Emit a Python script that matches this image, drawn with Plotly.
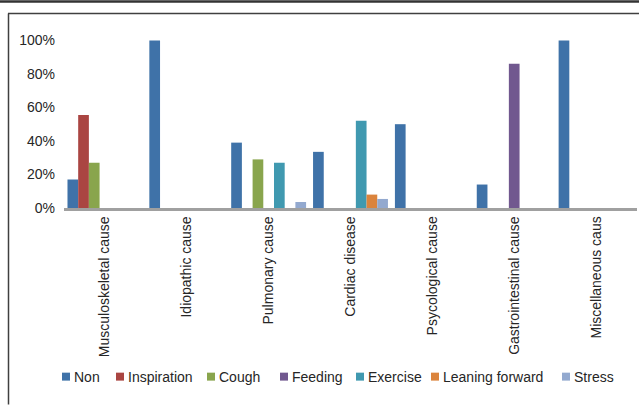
import plotly.graph_objects as go

# Causes of chest pain and the share of each provoking factor
categories = [
    "Musculoskeletal cause",
    "Idiopathic cause",
    "Pulmonary cause",
    "Cardiac disease",
    "Psycological cause",
    "Gastrointestinal cause",
    "Miscellaneous caus",
]

non = [0.17, 1.00, 0.39, 0.335, 0.50, 0.14, 1.00]
inspiration = [0.555, 0, 0, 0, 0, 0, 0]
cough = [0.27, 0, 0.29, 0, 0, 0, 0]
feeding = [0, 0, 0, 0, 0, 0.86, 0]
exercise = [0, 0, 0.27, 0.52, 0, 0, 0]
leaning_forward = [0, 0, 0, 0.08, 0, 0, 0]
stress = [0, 0, 0.036, 0.054, 0, 0, 0]

series_names = ["Non", "Inspiration", "Cough", "Feeding", "Exercise",
                "Leaning forward", "Stress"]
series_values = [non, inspiration, cough, feeding, exercise,
                 leaning_forward, stress]
series_colors = ["#3F72A8", "#AA4542", "#89A54D", "#71588F", "#4099B0",
                 "#DB843D", "#93A9CF"]

y_ticks = [0, 0.2, 0.4, 0.6, 0.8, 1.0]

W, H = 639, 406
ML, MR, MT, MB = 64, 2, 31.6, 197.5
FONT = "Liberation Sans, Arial, sans-serif"
TEXT = "#262626"


def px_x(px):
    return (px - ML) / (W - ML - MR)


def px_y(py):
    return (H - MB - py) / (H - MT - MB)


fig = go.Figure()
for name, vals, col in zip(series_names, series_values, series_colors):
    fig.add_trace(go.Bar(
        x=categories,
        y=[v if v > 0 else None for v in vals],
        name=name,
        marker=dict(color=col, line=dict(width=0)),
        showlegend=False,
    ))

shapes = []
annotations = []

# page rules and chart frame
shapes.append(dict(type="line", xref="paper", yref="paper",
                   x0=px_x(0), x1=px_x(W), y0=px_y(1), y1=px_y(1),
                   line=dict(color="#333333", width=2.5)))
shapes.append(dict(type="line", xref="paper", yref="paper",
                   x0=px_x(8), x1=px_x(W), y0=px_y(13), y1=px_y(13),
                   line=dict(color="#404040", width=1.5)))
shapes.append(dict(type="line", xref="paper", yref="paper",
                   x0=px_x(8.5), x1=px_x(8.5), y0=px_y(13), y1=px_y(H),
                   line=dict(color="#404040", width=1.5)))

# legend row
legend_x = [62, 116, 207, 280, 356, 431, 562]
legend_y = 378
for lx, name, col in zip(legend_x, series_names, series_colors):
    shapes.append(dict(type="rect", xref="paper", yref="paper",
                       x0=px_x(lx), x1=px_x(lx + 8),
                       y0=px_y(legend_y + 4), y1=px_y(legend_y - 4),
                       fillcolor=col, line=dict(width=0)))
    annotations.append(dict(xref="paper", yref="paper",
                            x=px_x(lx + 10), y=px_y(legend_y),
                            text=name, showarrow=False,
                            xanchor="left", yanchor="middle",
                            font=dict(family=FONT, size=14, color=TEXT)))

fig.update_layout(
    width=W, height=H,
    margin=dict(l=ML, r=MR, t=MT, b=MB, pad=0),
    paper_bgcolor="white", plot_bgcolor="white",
    barmode="group", bargap=0.085, bargroupgap=0,
    font=dict(family=FONT, size=14, color=TEXT),
    shapes=shapes, annotations=annotations,
    xaxis=dict(
        showline=True, linecolor="#A0A0A0", linewidth=2.5,
        showgrid=False, zeroline=False, ticks="",
        tickangle=-90, tickfont=dict(size=14, color=TEXT),
    ),
    yaxis=dict(
        range=[0, 1.05], tickvals=y_ticks, tickformat=".0%",
        showgrid=False, zeroline=False, showline=False, ticks="",
        tickfont=dict(size=14, color=TEXT), ticklabelstandoff=8,
    ),
)

fig.write_html("out.html")
